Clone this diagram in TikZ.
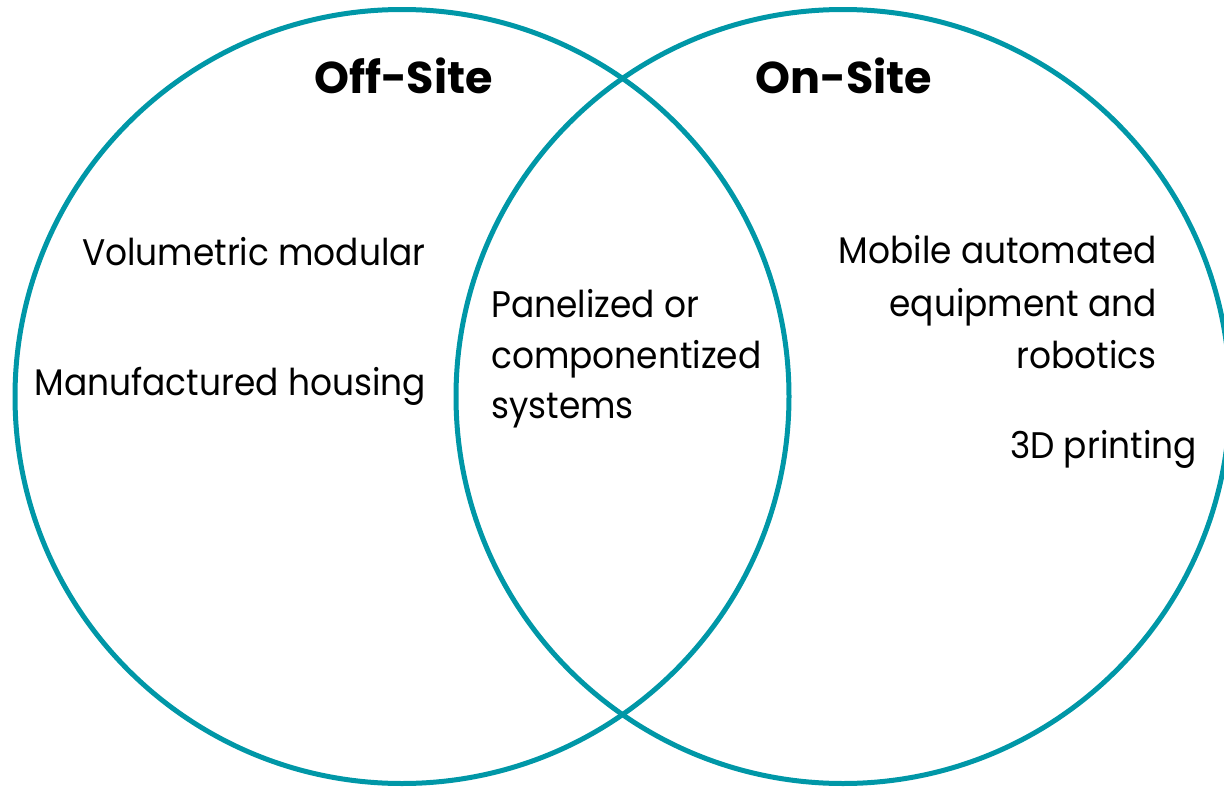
\documentclass[tikz,border=0pt]{standalone}
\usepackage{fontspec}
\setmainfont{Poppins}
\newfontfamily\bodyfont[FakeStretch=0.93]{Poppins}
\definecolor{ringteal}{RGB}{0,151,167}
\tikzset{
  ring/.style={draw=ringteal, line width=5pt},
  label/.style={inner sep=0pt, font=\bodyfont\fontsize{37}{50}\selectfont, text=black},
  heading/.style={inner sep=0pt, font=\fontsize{44.5}{50}\selectfont\bfseries, text=black},
}
\begin{document}
\begin{tikzpicture}[x=1pt, y=-1pt]
  \useasboundingbox (0,0) rectangle (1224,787);
  \clip (0,0) rectangle (1224,787);

  % the two overlapping sets
  \coordinate (offc) at (402,396.5);
  \coordinate (onc)  at (843,396.5);
  \draw[ring] (offc) circle[radius=387pt];
  \draw[ring] (onc)  circle[radius=387pt];

  % headings
  \node[heading, anchor=base] (offtitle) at (403.5,93) {Off-Site};
  \node[heading, anchor=base] (ontitle)  at (844,93) {On-Site};

  % off-site only
  \node[label, anchor=base east] (volmod) at (426,265) {Volumetric modular};
  \node[label, anchor=base east] (manuf)  at (426,395) {Manufactured housing};

  % shared
  \node[label, anchor=base west] (pan1) at (491,317) {Panelized or};
  \node[label, anchor=base west] (pan2) at (491,368) {componentized};
  \node[label, anchor=base west] (pan3) at (491,418) {systems};

  % on-site only
  \node[label, anchor=base east] (mob1) at (1157,263) {Mobile automated};
  \node[label, anchor=base east] (mob2) at (1157,316) {equipment and};
  \node[label, anchor=base east] (mob3) at (1157,368) {robotics};
  \node[label, anchor=base east] (print) at (1197,458) {3D printing};
\end{tikzpicture}
\end{document}
